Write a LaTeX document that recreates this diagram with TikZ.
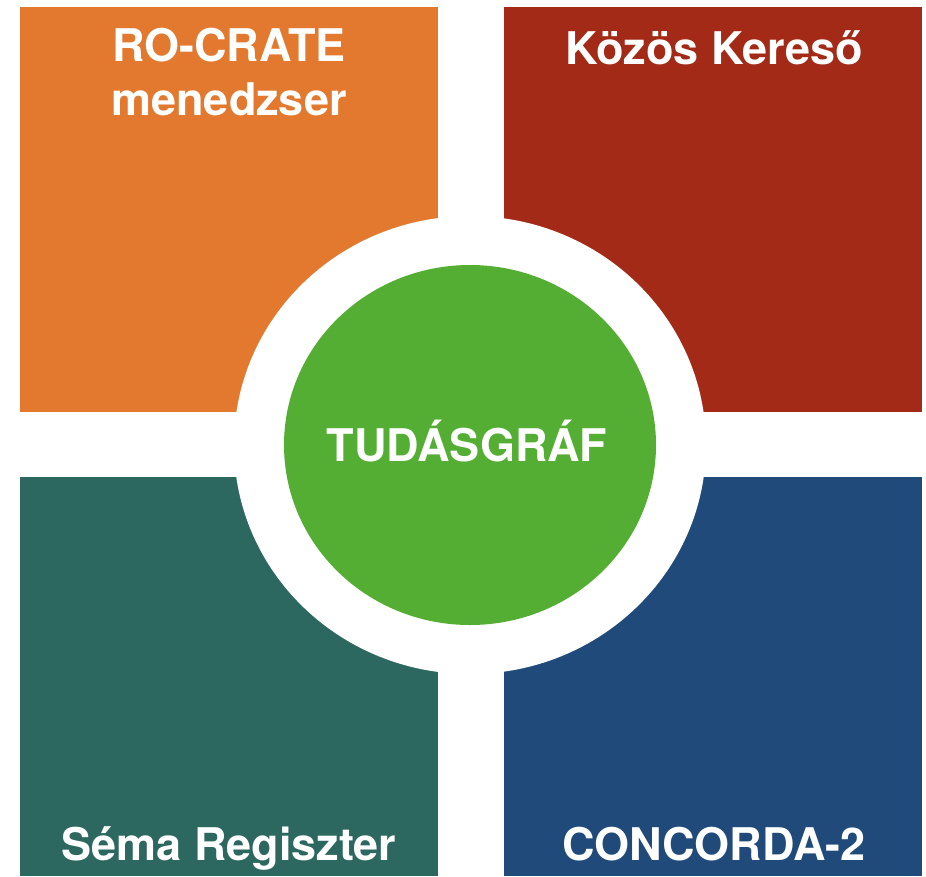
\documentclass[tikz,border=0pt]{standalone}
\usepackage{fontspec}
\setmainfont{TeX Gyre Heros}
\usetikzlibrary{shapes.geometric}
\definecolor{cOrange}{RGB}{226,121,46}
\definecolor{cRed}{RGB}{163,42,22}
\definecolor{cTeal}{RGB}{44,104,96}
\definecolor{cBlue}{RGB}{31,74,122}
\definecolor{cGreen}{RGB}{84,174,51}
\begin{document}
\begin{tikzpicture}[x=1pt,y=-1pt,
  tile/.style={rectangle,draw=none,inner sep=0pt,outer sep=0pt,anchor=north west,minimum width=418pt},
  lbl/.style={text=white,font=\fontsize{45}{54}\selectfont\bfseries,anchor=base,inner sep=0pt},
  disc/.style={ellipse,draw=none,inner sep=0pt,outer sep=0pt}]
\fill[white] (0,0) rectangle (926,876);
\useasboundingbox (0,0) rectangle (926,876);
\node[tile,minimum height=405pt,fill=cOrange] (ro) at (20,7) {};
\node[tile,minimum height=405pt,fill=cRed] (kk) at (504,7) {};
\node[tile,minimum height=399pt,fill=cTeal] (sr) at (20,477) {};
\node[tile,minimum height=399pt,fill=cBlue] (cc) at (504,477) {};
\node[disc,fill=white,minimum width=472pt,minimum height=458pt] (ring) at (470,445) {};
\node[disc,fill=cGreen,minimum width=372pt,minimum height=360pt] (tg) at (470,445) {};
\node[lbl] (tgt) at (467,461) {TUDÁSGRÁF};
\node[lbl] (rot1) at (229,61) {RO-CRATE};
\node[lbl] (rot2) at (229,115) {menedzser};
\node[lbl] (kkt) at (714,64) {Közös Kereső};
\node[lbl] (srt) at (229,860) {Séma Regiszter};
\node[lbl] (cct) at (714,860) {CONCORDA-2};
\end{tikzpicture}
\end{document}
